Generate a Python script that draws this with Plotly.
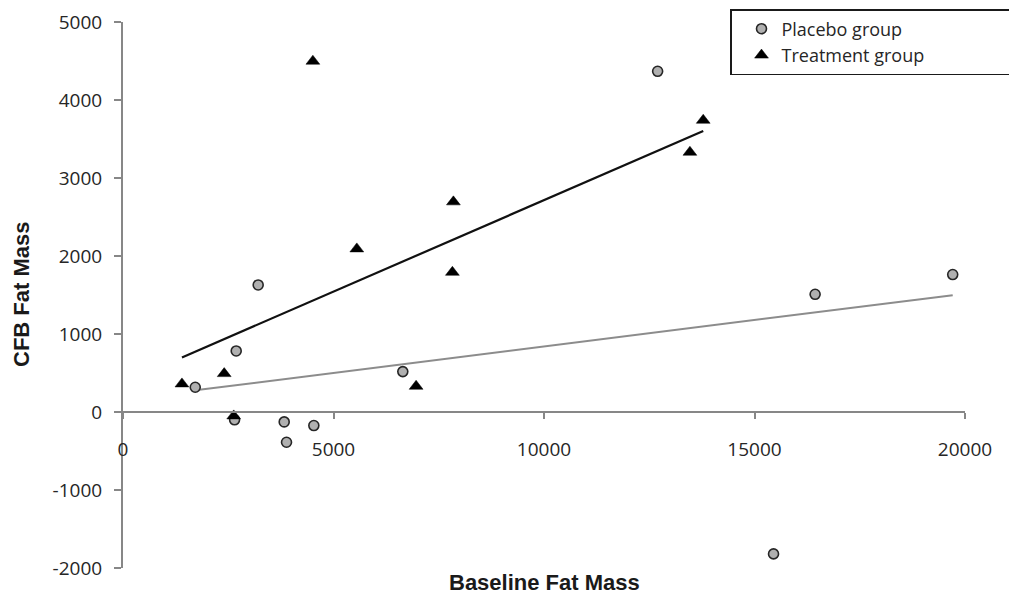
import numpy as np
import plotly.graph_objects as go

# ---- data ----
placebo_x = [1716, 2650, 2689, 3211, 3829, 3884, 4533, 6646, 12699, 15452, 16440, 19708]
placebo_y = [317, -100, 783, 1629, -127, -388, -174, 518, 4368, -1819, 1509, 1762]
treatment_x = [1400, 2404, 2630, 4510, 5554, 6962, 7824, 7848, 13466, 13782]
treatment_y = [360, 492, -50, 4497, 2091, 330, 1791, 2694, 3330, 3740]

x_ticks = [0, 5000, 10000, 15000, 20000]
x_tick_labels = ["0", "5000", "10000", "15000", "20000"]
y_ticks = [-2000, -1000, 0, 1000, 2000, 3000, 4000, 5000]
y_tick_labels = ["-2000", "-1000", "0", "1000", "2000", "3000", "4000", "5000"]
series_names = ["Placebo group", "Treatment group"]
x_title = "Baseline Fat Mass"
y_title = "CFB Fat Mass"

# the page body adds an 8px offset, so the figure is laid out 8px smaller
OFF = 8
W, H = 1017 - OFF, 594 - OFF
ML, MR, MT, MB = 123 - OFF, 52, 22 - OFF, 26
PW, PH = W - ML - MR, H - MT - MB
y_range = [-2000, 5000]
x_range = [0, 20000]


def trend(xs, ys):
    xs = np.asarray(xs, float)
    ys = np.asarray(ys, float)
    m, b = np.polyfit(xs, ys, 1)
    xe = np.array([xs.min(), xs.max()])
    return xe, m * xe + b


fig = go.Figure()

tx, ty = trend(treatment_x, treatment_y)
px_, py_ = trend(placebo_x, placebo_y)

fig.add_trace(go.Scatter(x=px_, y=py_, mode="lines", showlegend=False,
                         line=dict(color="#8c8c8c", width=2), hoverinfo="skip"))
fig.add_trace(go.Scatter(x=tx, y=ty, mode="lines", showlegend=False,
                         line=dict(color="#111111", width=2.2), hoverinfo="skip"))

pad = "\u00a0" * 18
fig.add_trace(go.Scatter(
    x=placebo_x, y=placebo_y, mode="markers", name=series_names[0],
    marker=dict(symbol="circle", size=10, color="#b0b0b0",
                line=dict(color="#262626", width=1.6))))
fig.add_trace(go.Scatter(
    x=treatment_x, y=treatment_y, mode="markers", name=series_names[1] + pad,
    marker=dict(symbol="triangle-up", size=12, color="#000000",
                line=dict(color="#000000", width=0.5))))

axis_col = "#878787"
tick_font = dict(family="Open Sans", size=19, color="#262626")

zero_pos = (0 - y_range[0]) / (y_range[1] - y_range[0])

fig.update_layout(
    width=W, height=H,
    margin=dict(l=ML, r=MR, t=MT, b=MB, pad=0, autoexpand=False),
    paper_bgcolor="white", plot_bgcolor="white",
    xaxis=dict(range=x_range, tickvals=x_ticks, ticktext=x_tick_labels,
               showgrid=False, zeroline=False, automargin=False,
               showline=True, linecolor=axis_col, linewidth=2,
               ticks="outside", ticklen=6, tickwidth=1.5, tickcolor=axis_col,
               tickfont=tick_font, ticklabelstandoff=14,
               anchor="free", position=zero_pos),
    yaxis=dict(range=y_range, tickvals=y_ticks, ticktext=y_tick_labels,
               showgrid=False, zeroline=False, automargin=False,
               showline=True, linecolor=axis_col, linewidth=2,
               ticks="outside", ticklen=7, tickwidth=1.5, tickcolor=axis_col,
               tickfont=tick_font, ticklabelstandoff=8),
    legend=dict(xref="container", yref="container",
                x=(730 - OFF) / W, y=1 - (9 - OFF) / H,
                xanchor="left", yanchor="top",
                bordercolor="#1a1a1a", borderwidth=1.5, bgcolor="white",
                font=dict(family="Open Sans", size=18, color="#262626"),
                indentation=10, tracegroupgap=0),
    showlegend=True,
)

fig.add_annotation(text=x_title, xref="paper", yref="paper",
                   x=0.5, y=(H - MB - (582 - OFF)) / PH,
                   xanchor="center", yanchor="middle", showarrow=False,
                   font=dict(family="Liberation Sans", size=22, color="#1a1a1a",
                             weight="bold"))
fig.add_annotation(text=y_title, xref="paper", yref="paper",
                   x=((21 - OFF) - ML) / PW, y=0.5, textangle=-90,
                   xanchor="center", yanchor="middle", showarrow=False,
                   font=dict(family="Liberation Sans", size=22, color="#1a1a1a",
                             weight="bold"))

fig.write_html("out.html")
